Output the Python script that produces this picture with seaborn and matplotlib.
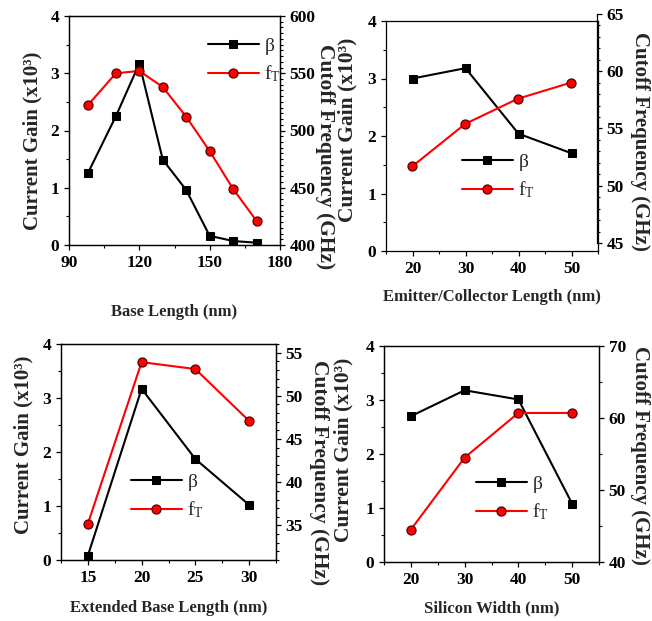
import matplotlib
matplotlib.use("Agg")
import matplotlib.pyplot as plt
import pandas as pd
import seaborn as sns
from matplotlib.ticker import MultipleLocator

# Base length sweep
base_len = [98, 110, 120, 130, 140, 150, 160, 170]
base_beta = [1.25, 2.25, 3.17, 1.49, 0.96, 0.16, 0.07, 0.04]
base_ft = [522, 550, 552, 538, 512, 482, 449, 421]

# Emitter/collector length sweep
ec_len = [20, 30, 40, 50]
ec_beta = [3.00, 3.18, 2.04, 1.70]
ec_ft = [51.7, 55.4, 57.6, 59.0]

# Extended base length sweep
ext_len = [15, 20, 25, 30]
ext_beta = [0.08, 3.17, 1.87, 1.02]
ext_ft = [35.2, 53.9, 53.1, 47.1]

# Silicon width sweep
si_width = [20, 30, 40, 50]
si_beta = [2.70, 3.18, 3.01, 1.08]
si_ft = [44.5, 54.5, 60.7, 60.7]

sns.set_style("ticks")
plt.rcParams["font.family"] = ["Liberation Serif", "DejaVu Serif"]
plt.rcParams["mathtext.default"] = "regular"
plt.rcParams["axes.linewidth"] = 0.9
plt.rcParams["axes.edgecolor"] = "black"
for a in ("x", "y"):
    plt.rcParams[f"{a}tick.direction"] = "out"
    plt.rcParams[f"{a}tick.major.size"] = 3.5
    plt.rcParams[f"{a}tick.minor.size"] = 2.2
    plt.rcParams[f"{a}tick.major.width"] = 0.9
    plt.rcParams[f"{a}tick.minor.width"] = 0.8
    plt.rcParams[f"{a}tick.color"] = "black"

W, H = 652, 621
fig = plt.figure(figsize=(W / 100, H / 100), dpi=100)


def rect(left, top, right, bottom):
    return [left / W, 1 - bottom / H, (right - left) / W, (bottom - top) / H]


def style_ticks(ax):
    for lab in ax.get_xticklabels() + ax.get_yticklabels():
        lab.set_fontweight("bold")
        lab.set_fontsize(12.5)


def panel(box, x, beta, ft, xlim, xmaj, xmin, ylim_r, rmaj, rmin, xlabel,
          xlab_y, ylab, rlab, leg_xy, rticks=None, rbox=None):
    """ylab / rlab = (offset from spine px, label centre y px, font size)"""
    ax = fig.add_axes(rect(*box))
    w = box[2] - box[0]
    h = box[3] - box[1]
    df = pd.DataFrame({"x": x, "beta": beta, "ft": ft})
    sns.lineplot(data=df, x="x", y="beta", ax=ax, color="black", marker="s",
                 markersize=6, markeredgecolor="black", linewidth=1.5,
                 legend=False)
    ax.set_xlim(*xlim)
    ax.set_ylim(0, 4)
    ax.xaxis.set_major_locator(MultipleLocator(xmaj))
    ax.xaxis.set_minor_locator(MultipleLocator(xmin))
    ax.yaxis.set_major_locator(MultipleLocator(1))
    ax.yaxis.set_minor_locator(MultipleLocator(0.5))
    for s in ax.spines.values():
        s.set_visible(True)
        s.set_color("black")

    if rbox is None:
        rax = ax.twinx()
        rtop, rh = box[1], h
    else:
        # right axis drawn on its own, a bit taller than the frame
        rax = fig.add_axes(rect(*rbox))
        rax.patch.set_visible(False)
        for side in ("left", "top", "bottom"):
            rax.spines[side].set_visible(False)
        rax.spines["right"].set_color("black")
        rax.xaxis.set_visible(False)
        rax.yaxis.tick_right()
        rtop, rh = rbox[1], rbox[3] - rbox[1]
    sns.lineplot(data=df, x="x", y="ft", ax=rax, color="red", marker="o",
                 markersize=6.5, markerfacecolor="red",
                 markeredgecolor="#5a0000", markeredgewidth=0.9,
                 linewidth=1.5, legend=False)
    rax.set_xlim(*xlim)
    rax.set_ylim(*ylim_r)
    if rticks is not None:
        rax.set_yticks(rticks)
    else:
        rax.yaxis.set_major_locator(MultipleLocator(rmaj))
    rax.yaxis.set_minor_locator(MultipleLocator(rmin))
    rax.set_xlabel("")

    ax.set_xlabel(xlabel, fontsize=12, fontweight="bold")
    ax.xaxis.set_label_coords(0.5, -xlab_y / h)
    ax.set_ylabel("Current Gain (x10³)", fontsize=ylab[2], fontweight="bold")
    ax.yaxis.set_label_coords(-ylab[0] / w, 1 - (ylab[1] - box[1]) / h)
    rax.set_ylabel("Cutoff Frequency (GHz)", fontsize=rlab[2],
                   fontweight="bold", rotation=270, va="bottom")
    rax.yaxis.set_label_coords(1 + rlab[0] / w, 1 - (rlab[1] - rtop) / rh)

    style_ticks(ax)
    style_ticks(rax)

    handles = [ax.lines[0], rax.lines[0]]
    ax.legend(handles, ["β", "f$_T$"], loc="upper left",
              bbox_to_anchor=((leg_xy[0] - box[0]) / w,
                              1 - (leg_xy[1] - box[1]) / h),
              frameon=False, fontsize=14, handlelength=2.6,
              handletextpad=0.3, labelspacing=0.45, borderpad=0,
              borderaxespad=0)
    return ax, rax


panel((69, 16, 280, 245), base_len, base_beta, base_ft,
      (90, 180), 30, 15, (400, 600), 50, 5, "Base Length (nm)",
      59, (27, 141, 15), (35, 157, 15.5), (208, 37))

panel((386, 21, 598, 251), ec_len, ec_beta, ec_ft,
      (15, 55), 10, 5, (45, 65), 5, 1, "Emitter/Collector Length (nm)",
      38, (29, 130, 15.5), (33, 141, 15), (462, 153),
      rbox=(386, 14, 597, 243))

panel((61, 344, 276, 560), ext_len, ext_beta, ext_ft,
      (12.5, 32.5), 5, 2.5, (31, 56), 5, 1, "Extended Base Length (nm)",
      40, (28, 445, 15), (33, 473, 15.5), (131, 473),
      rticks=[35, 40, 45, 50, 55])

panel((384, 346, 599, 562), si_width, si_beta, si_ft,
      (15, 55), 10, 5, (40, 70), 10, 5, "Silicon Width (nm)",
      38, (31, 450, 15.5), (31, 455, 15), (476, 475))

fig.savefig("out.png", dpi=100)
